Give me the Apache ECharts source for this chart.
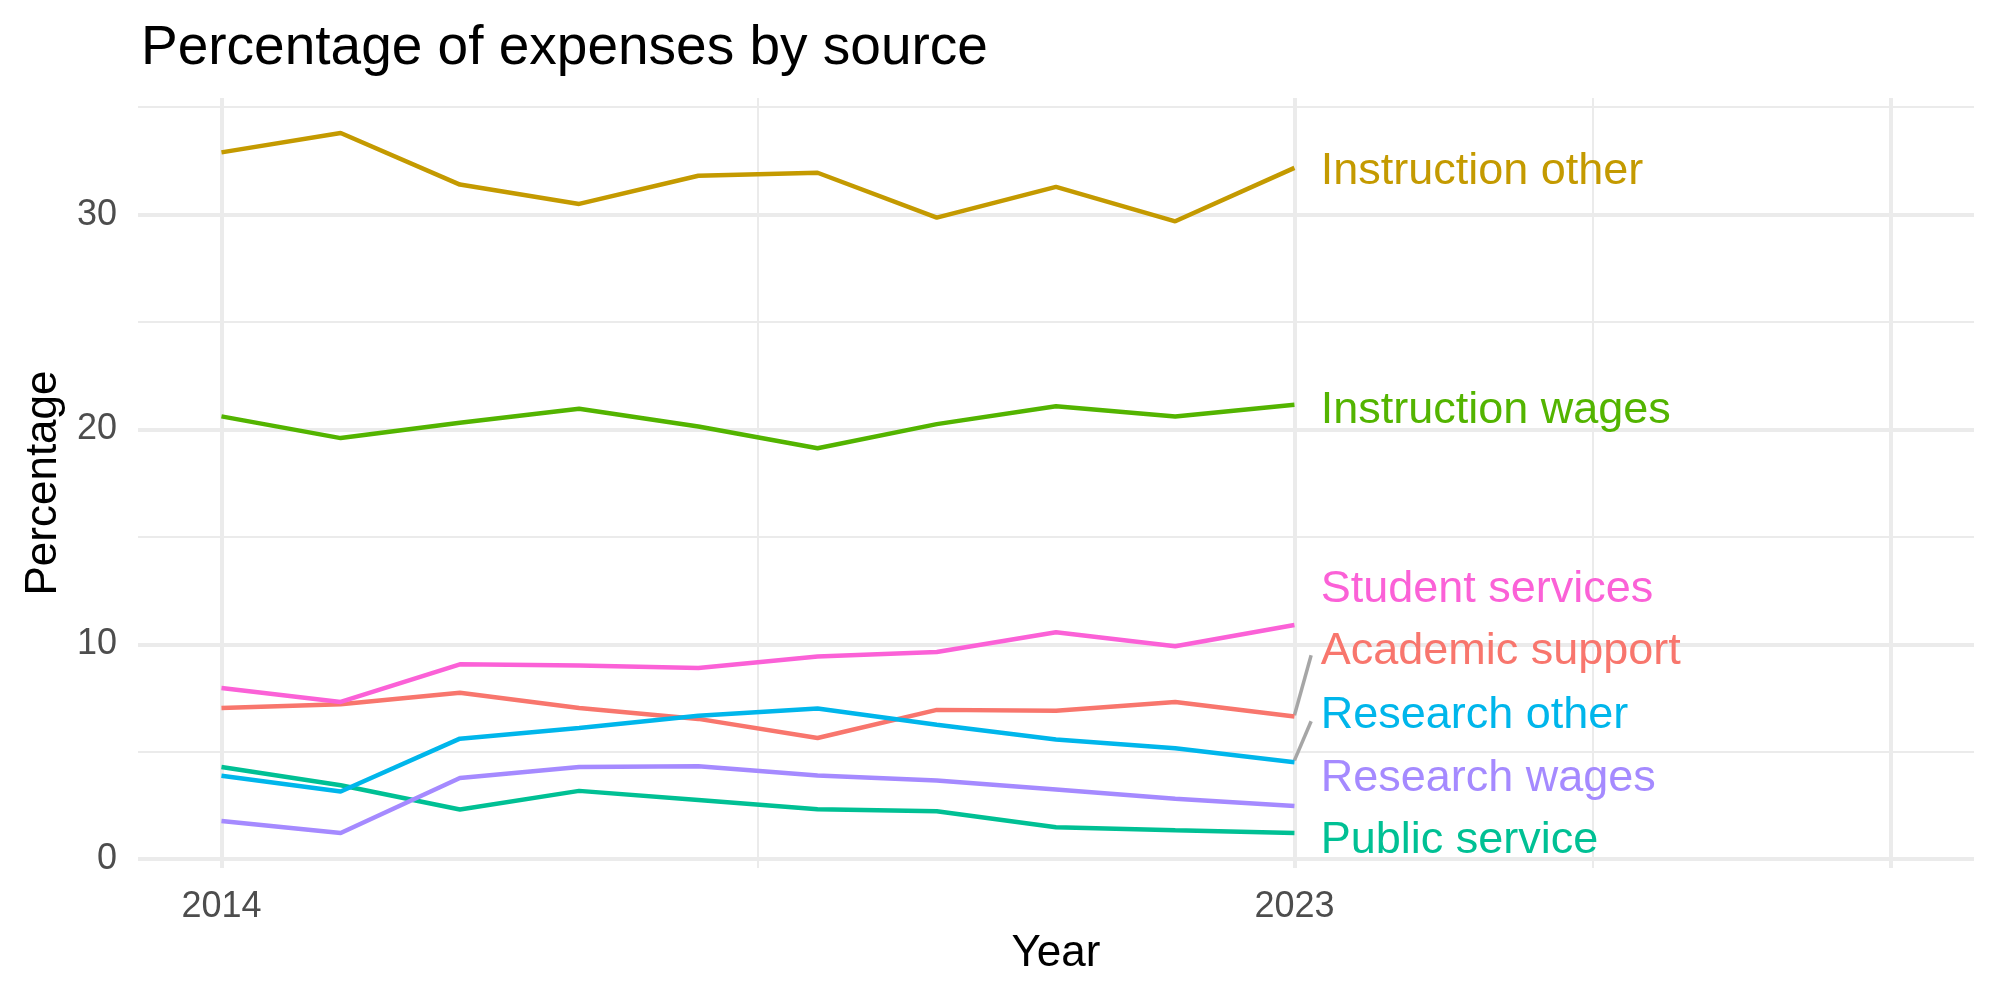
<!DOCTYPE html>
<html>
<head>
<meta charset="utf-8">
<title>Percentage of expenses by source</title>
<script src="https://cdn.jsdelivr.net/npm/echarts@6/dist/echarts.min.js"></script>
<style>
    html, body { margin: 0; padding: 0; background: #fff; }
    #chart { width: 2000px; height: 1000px; }
</style>
</head>
<body>
<div id="chart"></div>
<script>
// values, one array per source
var years = [2014, 2015, 2016, 2017, 2018, 2019, 2020, 2021, 2022, 2023];
var academicSupport = [7.04, 7.21, 7.75, 7.04, 6.53, 5.64, 6.95, 6.91, 7.32, 6.64];
var instructionOther = [32.90, 33.80, 31.40, 30.50, 31.81, 31.95, 29.86, 31.29, 29.69, 32.18];
var instructionWages = [20.61, 19.60, 20.31, 20.97, 20.14, 19.13, 20.25, 21.08, 20.61, 21.15];
var publicService = [4.29, 3.44, 2.31, 3.18, 2.76, 2.33, 2.23, 1.49, 1.35, 1.22];
var researchOther = [3.88, 3.15, 5.61, 6.11, 6.68, 7.01, 6.26, 5.57, 5.16, 4.51];
var researchWages = [1.78, 1.22, 3.78, 4.29, 4.33, 3.89, 3.66, 3.24, 2.81, 2.48];
var studentServices = [7.97, 7.32, 9.07, 9.01, 8.90, 9.43, 9.64, 10.56, 9.91, 10.90];

var sourceNames = ['Academic support', 'Instruction other', 'Instruction wages', 'Public service',
    'Research other', 'Research wages', 'Student services'];
var sourceValues = [academicSupport, instructionOther, instructionWages, publicService,
    researchOther, researchWages, studentServices];

// tick labels and grid breaks
var xTickLabels = [2014, 2023];
var xMajorBreaks = [2014, 2023, 2028];
var xMinorBreaks = [2018.5, 2025.5];
var yTickLabels = [0, 10, 20, 30];
var yMinorBreaks = [5, 15, 25, 35];

var colors = ['#F8766D', '#C49A00', '#53B400', '#00C094', '#00B6EB', '#A58AFF', '#FB61D7'];
// repelled label heights (data units), label column sits just right of the last year
var labelY = [9.84, 32.18, 21.08, 1.04, 6.89, 3.94, 12.74];
var labelX = 2023.22;
var FONT = '"Liberation Sans", Arial, sans-serif';

var chart = echarts.init(document.getElementById('chart'));

function gridLines(name, xs, ys, width) {
    var items = [];
    ys.forEach(function (v) { items.push({ yAxis: v }); });
    xs.forEach(function (v) { items.push({ xAxis: v }); });
    return {
        type: 'line', name: name, data: [], silent: true, z: 0,
        markLine: {
            silent: true, symbol: 'none', animation: false, z: 0,
            label: { show: false },
            lineStyle: { color: '#EBEBEB', width: width, type: 'solid' },
            emphasis: { disabled: true },
            data: items
        }
    };
}

var series = [];
series.push(gridLines('minorGrid', xMinorBreaks, yMinorBreaks, 2));
series.push(gridLines('majorGrid', xMajorBreaks, yTickLabels, 4));

for (var i = 0; i < sourceNames.length; i++) {
    var pts = [];
    for (var j = 0; j < years.length; j++) {
        pts.push([years[j], sourceValues[i][j]]);
    }
    series.push({
        type: 'line', name: sourceNames[i], data: pts, z: 3,
        symbol: 'none', showSymbol: false, silent: true,
        lineStyle: { color: colors[i], width: 4.5 },
        itemStyle: { color: colors[i] }
    });
}

// direct labels with the two grey leader segments
var labelData = [];
for (var k = 0; k < sourceNames.length; k++) {
    labelData.push({
        name: sourceNames[k], value: [labelX, labelY[k]],
        label: { color: colors[k] }
    });
}
var last = years.length - 1;
series.push({
    type: 'scatter', name: 'labels', data: labelData, z: 4,
    symbolSize: 0, silent: true,
    label: {
        show: true, position: 'right', distance: 0, offset: [0, 4], formatter: '{b}',
        fontSize: 45, fontFamily: FONT, textBorderWidth: 0, opacity: 1
    },
    markLine: {
        silent: true, symbol: 'none', animation: false, z: 2,
        label: { show: false },
        lineStyle: { color: '#A6A6A6', width: 3.5, type: 'solid' },
        data: [
            [{ coord: [years[last], academicSupport[last] + 0.06] }, { coord: [2023.14, labelY[0] - 0.35] }],
            [{ coord: [years[last], researchOther[last] + 0.09] }, { coord: [2023.14, labelY[4] - 0.47] }]
        ]
    }
});

var option = {
    animation: false,
    backgroundColor: '#fff',
    title: {
        text: 'Percentage of expenses by source',
        left: 136, top: 16,
        textStyle: { fontSize: 55, fontWeight: 'normal', color: '#000', fontFamily: FONT }
    },
    grid: { left: 138, right: 26, top: 98, bottom: 132, containLabel: false, outerBoundsMode: 'none' },
    xAxis: {
        type: 'value', min: 2013.3, max: 2028.7,
        name: 'Year', nameLocation: 'middle', nameGap: 64,
        nameTextStyle: { fontSize: 44, color: '#000', fontFamily: FONT },
        axisLine: { show: false }, axisTick: { show: false }, splitLine: { show: false },
        axisLabel: {
            customValues: xTickLabels, fontSize: 36, color: '#4D4D4D', margin: 21, fontFamily: FONT,
            formatter: function (v) { return String(v); }
        }
    },
    yAxis: {
        type: 'value', min: -0.41, max: 35.43,
        name: 'Percentage', nameLocation: 'middle', nameGap: 72, nameRotate: 90,
        nameTextStyle: { fontSize: 44, color: '#000', fontFamily: FONT },
        axisLine: { show: false }, axisTick: { show: false }, splitLine: { show: false },
        axisLabel: {
            customValues: yTickLabels, fontSize: 36, color: '#4D4D4D', margin: 21, fontFamily: FONT,
            formatter: function (v) { return String(v); }
        }
    },
    series: series
};

chart.setOption(option);
</script>
</body>
</html>
